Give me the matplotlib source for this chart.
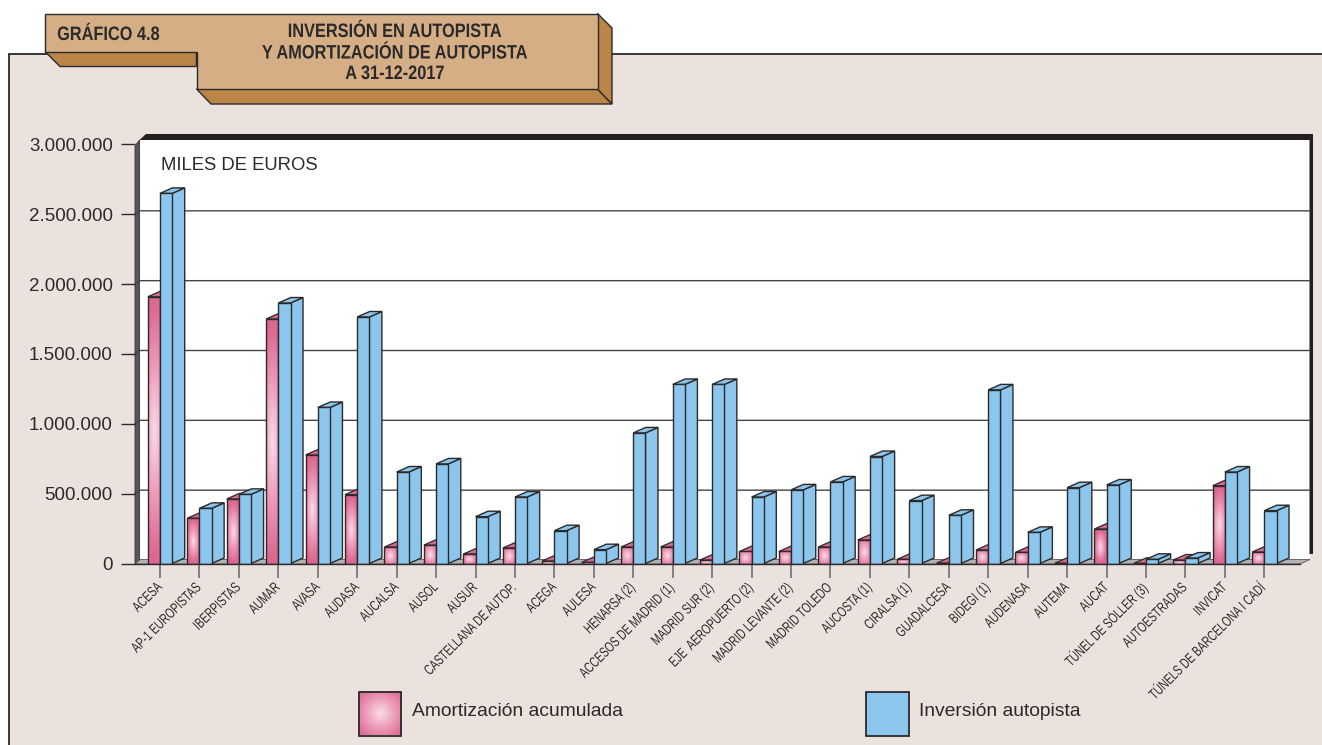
import numpy as np
import matplotlib
matplotlib.use("Agg")
import matplotlib.pyplot as plt
from matplotlib.colors import LinearSegmentedColormap
from matplotlib.patches import Polygon, Rectangle
from matplotlib.patheffects import AbstractPathEffect
from matplotlib.transforms import Affine2D

categories = ["ACESA", "AP-1 EUROPISTAS", "IBERPISTAS", "AUMAR", "AVASA", "AUDASA", "AUCALSA", "AUSOL",
              "AUSUR", "CASTELLANA DE AUTOP.", "ACEGA", "AULESA", "HENARSA (2)", "ACCESOS DE MADRID (1)",
              "MADRID SUR (2)", "EJE  AEROPUERTO (2)", "MADRID LEVANTE (2)", "MADRID TOLEDO", "AUCOSTA (1)",
              "CIRALSA (1)", "GUADALCESA", "BIDEGI (1)", "AUDENASA", "AUTEMA", "AUCAT", "TÚNEL DE SÓLLER (3)",
              "AUTOESTRADAS", "INVICAT", "TÚNELS DE BARCELONA I CADÍ"]
amortizacion = [1910000, 324000, 462000, 1751000, 777000, 493000, 118000, 132000, 68000, 111000, 18000, 8000,
                118000, 118000, 25000, 86000, 86000, 118000, 168000, 30000, 3000, 97000, 80000, 2000, 247000,
                1000, 25000, 557000, 82000]
inversion = [2650000, 395000, 495000, 1865000, 1117000, 1765000, 655000, 713000, 335000, 476000, 235000, 99000,
             935000, 1282000, 1282000, 476000, 527000, 584000, 766000, 450000, 345000, 1243000, 223000, 543000,
             562000, 30000, 39000, 655000, 378000]
y_ticks = [0, 500000, 1000000, 1500000, 2000000, 2500000, 3000000]
y_labels = ["0", "500.000", "1.000.000", "1.500.000", "2.000.000", "2.500.000", "3.000.000"]

W, H = 1322, 745
PANEL = "#ebe2de"; TAN = "#d5ae85"; TAN_D = "#bb8548"; INK = "#2b2a2b"
BLUE = "#8cc6ec"; PINK_D = "#dc6890"; PINK_L = "#f8dde9"
SANS = ["Liberation Sans"]
pink_cmap = LinearSegmentedColormap.from_list("p", [PINK_L, "#ee9dbb", PINK_D])


class Condense(AbstractPathEffect):
    """Draw a text narrower along its baseline, keeping one end fixed."""
    def __init__(self, sx, anchor="center"):
        super().__init__()
        self.sx, self.anchor = sx, anchor

    def draw_path(self, renderer, gc, tpath, affine, rgbFace=None):
        bb = tpath.get_extents()
        a = {"left": bb.x0, "right": bb.x1, "center": (bb.x0 + bb.x1) / 2}[self.anchor]
        t = Affine2D().translate(-a, 0).scale(self.sx, 1).translate(a, 0) + affine
        renderer.draw_path(gc, tpath, t, rgbFace)


fig = plt.figure(figsize=(W / 100, H / 100), dpi=100, facecolor="white")
bg = fig.add_axes([0, 0, 1, 1], zorder=0)
bg.set_xlim(0, W); bg.set_ylim(H, 0); bg.axis("off")

def poly(pts, fc, ec=INK, lw=1.0, z=1):
    bg.add_patch(Polygon(pts, closed=True, fc=fc, ec=ec, lw=lw, zorder=z))

def gradient(k=0.5, reach=0.95):
    u, v = np.meshgrid(np.linspace(-1, 1, 64), np.linspace(-1, 1, 64))
    return np.clip(np.sqrt(k * u ** 2 + v ** 2) / reach, 0, 1)

# panel
poly([(9, 53.5), (W + 5, 53.5), (W + 5, H + 5), (9, H + 5)], PANEL, lw=1.3, z=1)
# plot box
poly([(139.5, 140), (1310, 140), (1310, 560), (139.5, 560)], "white", ec="none", z=2)
poly([(135, 146), (139.5, 140), (139.5, 560), (135, 564)], "#55565a", ec="#333333", lw=0.6, z=3)
poly([(139.5, 140), (146, 134), (1313, 134), (1313, 554), (1309.5, 554), (1309.5, 140)], "#231f20", ec="none", z=3)
poly([(135, 564), (140, 559.5), (1310, 559.5), (1300, 564)], "#b2b2b2", ec="#555555", lw=0.6, z=3)
# title tab
poly([(45, 51.5), (60, 66.5), (196.5, 66.5), (196.5, 51.5)], TAN_D, z=5)
poly([(196.5, 89), (211, 104), (612, 104), (597.5, 89)], TAN_D, z=5)
poly([(597.5, 13.5), (612, 28), (612, 104), (597.5, 89)], TAN_D, z=5)
poly([(45, 13.5), (597.5, 13.5), (597.5, 89), (196.5, 89), (196.5, 51.5), (45, 51.5)], TAN, z=6)
tt = bg.text(57, 35.5, "GRÁFICO 4.8", family=SANS, weight="bold", fontsize=14, color=INK, va="center", zorder=7)
tt.set_path_effects([Condense(0.84, "left")])
for yy, s in zip([32.5, 54, 74.5], ["INVERSIÓN EN AUTOPISTA", "Y AMORTIZACIÓN DE AUTOPISTA", "A 31-12-2017"]):
    tt = bg.text(395, yy, s, family=SANS, weight="bold", fontsize=14, color=INK, ha="center", va="center", zorder=7)
    tt.set_path_effects([Condense(0.84, "center")])
bg.text(161, 165.5, "MILES DE EUROS", family=SANS, fontsize=13.3, color=INK, va="center", zorder=7)
# legend
bg.imshow(gradient(1.0, 1.35), cmap=pink_cmap, vmin=0, vmax=1, extent=(358.5, 401, 735.5, 691.5), aspect="auto",
          interpolation="bilinear", zorder=4)
bg.add_patch(Rectangle((358.5, 691.5), 42.5, 44, fc="none", ec=INK, lw=1.3, zorder=5))
bg.add_patch(Rectangle((865.5, 691.5), 43.5, 44, fc=BLUE, ec=INK, lw=1.3, zorder=5))
bg.text(412, 712, "Amortización acumulada", family=SANS, fontsize=13.85, color=INK, va="center", zorder=7)
bg.text(919, 712, "Inversión autopista", family=SANS, fontsize=13.85, color=INK, va="center", zorder=7)
bg.set_xlim(0, W); bg.set_ylim(H, 0)

# data axes
X0, STEP = 160.0, 39.44
Y0, Y3M = 563.5, 144.5
LEFT, RIGHT = 135.0, 1300.0
ax = fig.add_axes([LEFT / W, 1 - Y0 / H, (RIGHT - LEFT) / W, (Y0 - Y3M) / H], zorder=2)
ax.patch.set_alpha(0)
x = np.arange(len(categories))
PX_Y = 3000000 / (Y0 - Y3M)
w = 12.2 / STEP
dx, dy = 12.5 / STEP, 5.5 * PX_Y

# back-wall gridlines, stepping up across the left wall
for t in y_ticks[1:-1]:
    ax.plot([(135 - X0) / STEP, (139.5 - X0) / STEP, (1310 - X0) / STEP],
            [t, t + 3.5 * PX_Y, t + 3.5 * PX_Y], color="#444444", lw=1.0, zorder=1, clip_on=False)

for i in x:
    z = 2 + i
    a, b = amortizacion[i], inversion[i]
    ax.add_patch(Polygon([(i - w, a), (i - w + dx, a + dy), (i + dx, a + dy), (i, a)], fc=PINK_D, ec=INK, lw=0.9, zorder=z))
    h_px = max(a / PX_Y, 1)
    k = min(1.0, 3 * (w * STEP) / h_px)
    ax.imshow(gradient(k, 1.35 if h_px < 25 else 0.95), cmap=pink_cmap, vmin=0, vmax=1, extent=(i - w, i, 0, a),
              aspect="auto", interpolation="bilinear", zorder=z + 0.1)
    ax.bar(i - w / 2, a, w, facecolor="none", edgecolor=INK, lw=1.0, zorder=z + 0.2)
    ax.add_patch(Polygon([(i + w, b), (i + w + dx, b + dy), (i + w + dx, dy), (i + w, 0)], fc=BLUE, ec=INK, lw=1.0, zorder=z + 0.3))
    ax.add_patch(Polygon([(i, b), (i + dx, b + dy), (i + w + dx, b + dy), (i + w, b)], fc=BLUE, ec=INK, lw=1.0, zorder=z + 0.3))
    ax.bar(i + w / 2, b, w, color=BLUE, edgecolor=INK, lw=1.0, zorder=z + 0.4)

ax.set_xlim((LEFT - X0) / STEP, (RIGHT - X0) / STEP)
ax.set_ylim(0, 3000000)
for s in ["top", "right", "left"]:
    ax.spines[s].set_visible(False)
ax.spines["bottom"].set_color(INK); ax.spines["bottom"].set_linewidth(1.0); ax.spines["bottom"].set_zorder(50)
ax.set_yticks(y_ticks, y_labels, family=SANS, fontsize=13.5, color=INK)
ax.tick_params(axis="y", length=10, width=1.0, color=INK, pad=6)
ax.set_xticks(x)
ax.set_xticklabels(categories, family=SANS, fontsize=10.5, color=INK, rotation=45, ha="right", va="center",
                   rotation_mode="anchor")
ax.tick_params(axis="x", length=10, width=1.1, color="#666666", pad=5.4)
for lab in ax.get_xticklabels():
    lab.set_path_effects([Condense(0.71, "right")])

fig.savefig("out.png", dpi=100)
